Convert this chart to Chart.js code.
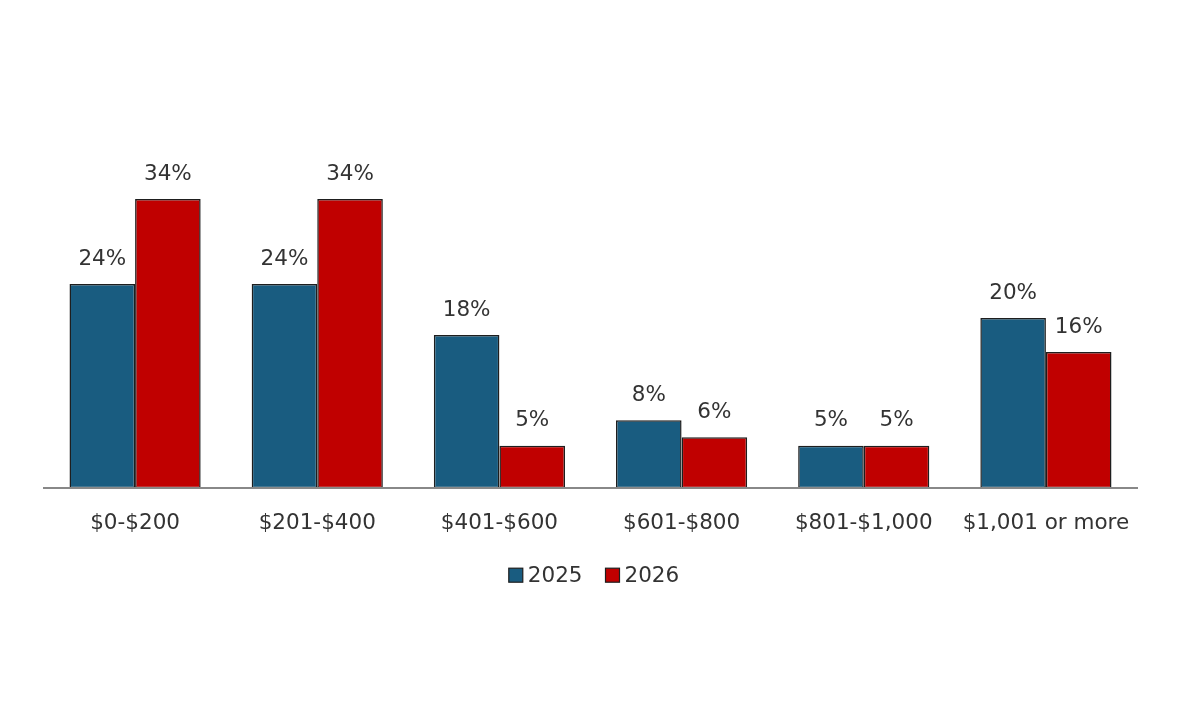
<!DOCTYPE html>
<html>
<head>
<meta charset="utf-8">
<script src="https://cdn.jsdelivr.net/npm/chart.js@4/dist/chart.umd.min.js"></script>
<style>
  html, body { margin: 0; padding: 0; background: #ffffff; }
  #wrap { width: 1200px; height: 727px; }
</style>
</head>
<body>
<div id="wrap"><canvas id="c" width="1200" height="727"></canvas></div>
<script>
const categories = ["$0-$200", "$201-$400", "$401-$600", "$601-$800", "$801-$1,000", "$1,001 or more"];
const series2025 = [24, 24, 18, 8, 5, 20];
const series2026 = [34, 34, 5, 6, 5, 16];
const seriesNames = ["2025", "2026"];

const FONT = "'DejaVu Sans', sans-serif";
const FSIZE = 21.5;
const TEXT = "#333333";

const valueLabels = {
  id: 'valueLabels',
  afterDatasetsDraw(chart) {
    const ctx = chart.ctx;
    ctx.save();
    ctx.font = FSIZE + "px " + FONT;
    ctx.fillStyle = TEXT;
    ctx.textAlign = 'center';
    ctx.textBaseline = 'middle';
    chart.data.datasets.forEach((ds, i) => {
      const meta = chart.getDatasetMeta(i);
      meta.data.forEach((bar, j) => {
        ctx.fillText(ds.data[j] + '%', bar.x, bar.y - 25);
      });
    });
    ctx.restore();
  }
};

// Legend drawn below the axis labels (box, small gap, text; wider gap between items)
const bottomLegend = {
  id: 'bottomLegend',
  afterDraw(chart) {
    const ctx = chart.ctx;
    const box = 14, gapText = 5, gapItem = 23;
    const cy = chart.chartArea.bottom + 87;
    ctx.save();
    ctx.font = FSIZE + "px " + FONT;
    ctx.textBaseline = 'middle';
    ctx.textAlign = 'left';
    const items = chart.data.datasets.map(ds => ({
      label: ds.label, fill: ds.backgroundColor, stroke: ds.borderColor,
      w: box + gapText + ctx.measureText(ds.label).width
    }));
    const total = items.reduce((s, it) => s + it.w, 0) + gapItem * (items.length - 1);
    let x = chart.width / 2 - 6 - total / 2;
    items.forEach(it => {
      ctx.fillStyle = it.fill;
      ctx.fillRect(x, cy - box / 2, box, box);
      ctx.lineWidth = 1.2;
      ctx.strokeStyle = it.stroke;
      ctx.strokeRect(x, cy - box / 2, box, box);
      ctx.fillStyle = TEXT;
      ctx.fillText(it.label, x + box + gapText, cy + 1);
      x += it.w + gapItem;
    });
    ctx.restore();
  }
};

new Chart(document.getElementById('c'), {
  type: 'bar',
  data: {
    labels: categories,
    datasets: [
      { label: seriesNames[0], data: series2025, backgroundColor: '#195c80', borderColor: '#1e1e1e', borderWidth: 1.5, borderSkipped: false },
      { label: seriesNames[1], data: series2026, backgroundColor: '#c00000', borderColor: '#1e1e1e', borderWidth: 1.5, borderSkipped: false }
    ]
  },
  options: {
    responsive: false,
    animation: false,
    devicePixelRatio: 1,
    layout: { padding: { top: 148, left: 44, right: 63, bottom: 169 } },
    datasets: { bar: { categoryPercentage: 0.72, barPercentage: 1.0 } },
    scales: {
      x: {
        grid: { display: false, drawTicks: false },
        border: { display: true, color: '#888888', width: 2, z: 1 },
        ticks: { color: TEXT, font: { family: FONT, size: FSIZE }, padding: 22 }
      },
      y: {
        display: false,
        min: 0,
        max: 40
      }
    },
    plugins: {
      legend: { display: false },
      tooltip: { enabled: false }
    }
  },
  plugins: [valueLabels, bottomLegend]
});
</script>
</body>
</html>
